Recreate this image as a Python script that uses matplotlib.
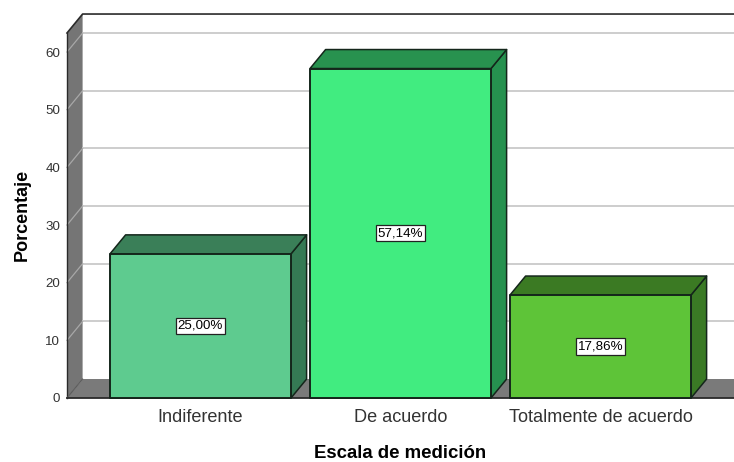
import matplotlib
matplotlib.use("Agg")
import matplotlib.pyplot as plt
from matplotlib.patches import Polygon

plt.rcParams["font.family"] = ["Liberation Sans", "DejaVu Sans"]

categories = ["Indiferente", "De acuerdo", "Totalmente de acuerdo"]
values = [25.00, 57.14, 17.86]
labels = ["25,00%", "57,14%", "17,86%"]
yticks = [0, 10, 20, 30, 40, 50, 60]

front_colors = ["#5ECB8F", "#41EC80", "#5EC438"]
top_colors = ["#3A7F58", "#28924F", "#3B7A23"]
side_colors = ["#357A54", "#26914F", "#3A7A25"]

W, H = 734, 462
fig = plt.figure(figsize=(W / 100, H / 100), dpi=100)
ax = fig.add_axes([67 / W, 1 - 398 / H, (734 - 67) / W, (398 - 33) / H])

xmin, xmax = -0.6675, 2.6675
ymax = 63.3
bar_w = 0.905
# 3d depth of the chart box, in data units
dx = 0.078
dy = 3.29

ax.set_xlim(xmin, xmax)
ax.set_ylim(0, ymax)
for s in ax.spines.values():
    s.set_visible(False)
ax.patch.set_visible(False)


def poly(pts, fc, ec="none", lw=0, z=1):
    ax.add_patch(Polygon(pts, closed=True, facecolor=fc, edgecolor=ec, linewidth=lw,
                         zorder=z, clip_on=False, joinstyle="round"))


# walls and floor
poly([(xmin, 0), (xmin + dx, dy), (xmin + dx, ymax + dy), (xmin, ymax)], "#757575", z=1)
poly([(xmin, 0), (xmax, 0), (xmax, dy), (xmin + dx, dy)], "#7A7A7A", z=1)

# gridlines on back wall and their diagonals on the side wall
for t in yticks[1:]:
    ax.plot([xmin + dx, xmax], [t + dy, t + dy], color="#CDCDCD", lw=1.4, zorder=2, clip_on=False)
    ax.plot([xmin, xmin + dx], [t, t + dy], color="#A8A8A8", lw=0.9, zorder=2, clip_on=False)

# box outline
ax.plot([xmin, xmin + dx, xmax], [ymax, ymax + dy, ymax + dy], color="#2A2A2A", lw=1.2, zorder=3, clip_on=False)
ax.plot([xmin, xmin], [0, ymax], color="#2A2A2A", lw=1.0, zorder=3, clip_on=False)
ax.plot([xmin, xmin + dx], [0, dy], color="#5A5A5A", lw=0.8, zorder=3, clip_on=False)
ax.plot([xmin, xmax], [0, 0], color="#2A2A2A", lw=1.3, zorder=3, clip_on=False)

# bars
for i, v in enumerate(values):
    x0 = i - bar_w / 2
    x1 = i + bar_w / 2
    poly([(x1, 0), (x1 + dx, dy), (x1 + dx, v + dy), (x1, v)], side_colors[i], "#14261B", 1.1, 4)
    poly([(x0, v), (x1, v), (x1 + dx, v + dy), (x0 + dx, v + dy)], top_colors[i], "#14261B", 1.1, 4)
    poly([(x0, 0), (x1, 0), (x1, v), (x0, v)], front_colors[i], "#14261B", 1.4, 5)
    ax.text(i, v / 2, labels[i], ha="center", va="center", fontsize=9.6, color="black", zorder=6,
            bbox=dict(boxstyle="square,pad=0.16", facecolor="white", edgecolor="#222222", linewidth=0.9))

ax.set_xticks(range(len(categories)))
ax.set_xticklabels(categories, fontsize=13.1, color="#333333")
ax.set_yticks(yticks)
ax.set_yticklabels([str(t) for t in yticks], fontsize=9.6, color="#333333")
ax.tick_params(axis="both", length=0)
ax.tick_params(axis="y", pad=5)
ax.tick_params(axis="x", pad=8)

ax.set_xlabel("Escala de medición", fontsize=13.4, fontweight="bold", labelpad=0)
ax.xaxis.set_label_coords((400 - 67) / (734 - 67), -(454 - 398) / (398 - 33), transform=ax.transAxes)
ax.xaxis.label.set_va("center")
ax.set_ylabel("Porcentaje", fontsize=13.0, fontweight="bold")
ax.yaxis.set_label_coords(-(67 - 22) / (734 - 67), (398 - 215) / (398 - 33), transform=ax.transAxes)
ax.yaxis.label.set_va("center")

fig.savefig("out.png", dpi=100, facecolor="white")
plt.close(fig)
